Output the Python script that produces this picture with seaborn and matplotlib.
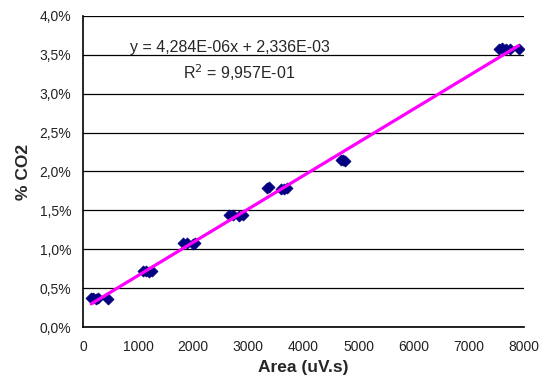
import numpy as np
import pandas as pd
import matplotlib.pyplot as plt
import seaborn as sns
from matplotlib.ticker import FuncFormatter, MultipleLocator

# calibration points
area = [150, 190, 230, 280, 460,
        1080, 1150, 1200, 1260,
        1820, 1880, 1990, 2040,
        2650, 2730, 2830, 2900,
        3340, 3380, 3600, 3650, 3700,
        4680, 4720, 4750,
        7540, 7600, 7680, 7750, 7900]
co2 = [0.0037, 0.0037, 0.0036, 0.0037, 0.0036,
       0.0072, 0.0072, 0.0071, 0.0072,
       0.0108, 0.0108, 0.0107, 0.0108,
       0.0144, 0.0144, 0.0143, 0.0144,
       0.0179, 0.0180, 0.0178, 0.0178, 0.0179,
       0.0215, 0.0215, 0.0214,
       0.0358, 0.0359, 0.0358, 0.0358, 0.0358]

# trendline coefficients as printed on the chart
slope = 4.284e-06
intercept = 2.336e-03
r2_text = "9,957E-01"

df = pd.DataFrame({'Area': area, 'CO2': co2})
x_end = np.array([min(area), max(area)])
trend = pd.DataFrame({'Area': x_end, 'CO2': slope * x_end + intercept})

sns.set_style("white")
plt.rcParams['font.family'] = ['Liberation Sans', 'DejaVu Sans']

fig = plt.figure(figsize=(5.4, 3.78), dpi=100)
ax = fig.add_axes([0.1537, 0.1349, 0.9704 - 0.1537, 0.9577 - 0.1349])

sns.scatterplot(data=df, x='Area', y='CO2', marker='D', s=32, color='#000080',
                edgecolor='#000080', linewidth=0.5, ax=ax, zorder=3)
sns.lineplot(data=trend, x='Area', y='CO2', color='#FF00FF', linewidth=2.3, ax=ax, zorder=4)

ax.set_xlim(0, 8000)
ax.set_ylim(0, 0.04)
ax.xaxis.set_major_locator(MultipleLocator(1000))
ax.yaxis.set_major_locator(MultipleLocator(0.005))
ax.yaxis.set_major_formatter(FuncFormatter(lambda v, p: f"{v*100:.1f}%".replace('.', ',')))

ax.grid(axis='y', color='black', linewidth=0.9)
ax.set_axisbelow(True)
for s in ['top', 'right']:
    ax.spines[s].set_visible(False)
for s in ['left', 'bottom']:
    ax.spines[s].set_color('black')
    ax.spines[s].set_linewidth(1.2)

ax.tick_params(axis='x', direction='out', length=4, width=1, colors='black', labelsize=10, pad=5)
ax.tick_params(axis='y', direction='inout', length=9, width=1, colors='black', labelsize=10, pad=4)
for lab in ax.get_xticklabels() + ax.get_yticklabels():
    lab.set_color('#222222')

ax.set_xlabel('Area (uV.s)', fontsize=12.5, fontweight='bold', labelpad=5)
ax.set_ylabel('% CO2', fontsize=12.5, fontweight='bold', labelpad=6)

eq = f"y = {slope:.3E}x + {intercept:.3E}".replace('.', ',')
ax.text(2670, 0.0359, eq, fontsize=11.5, ha='center', va='center')
ax.text(2830, 0.0327, "R$^2$ = " + r2_text, fontsize=11.5, ha='center', va='center')

plt.savefig('out.png', dpi=100)
